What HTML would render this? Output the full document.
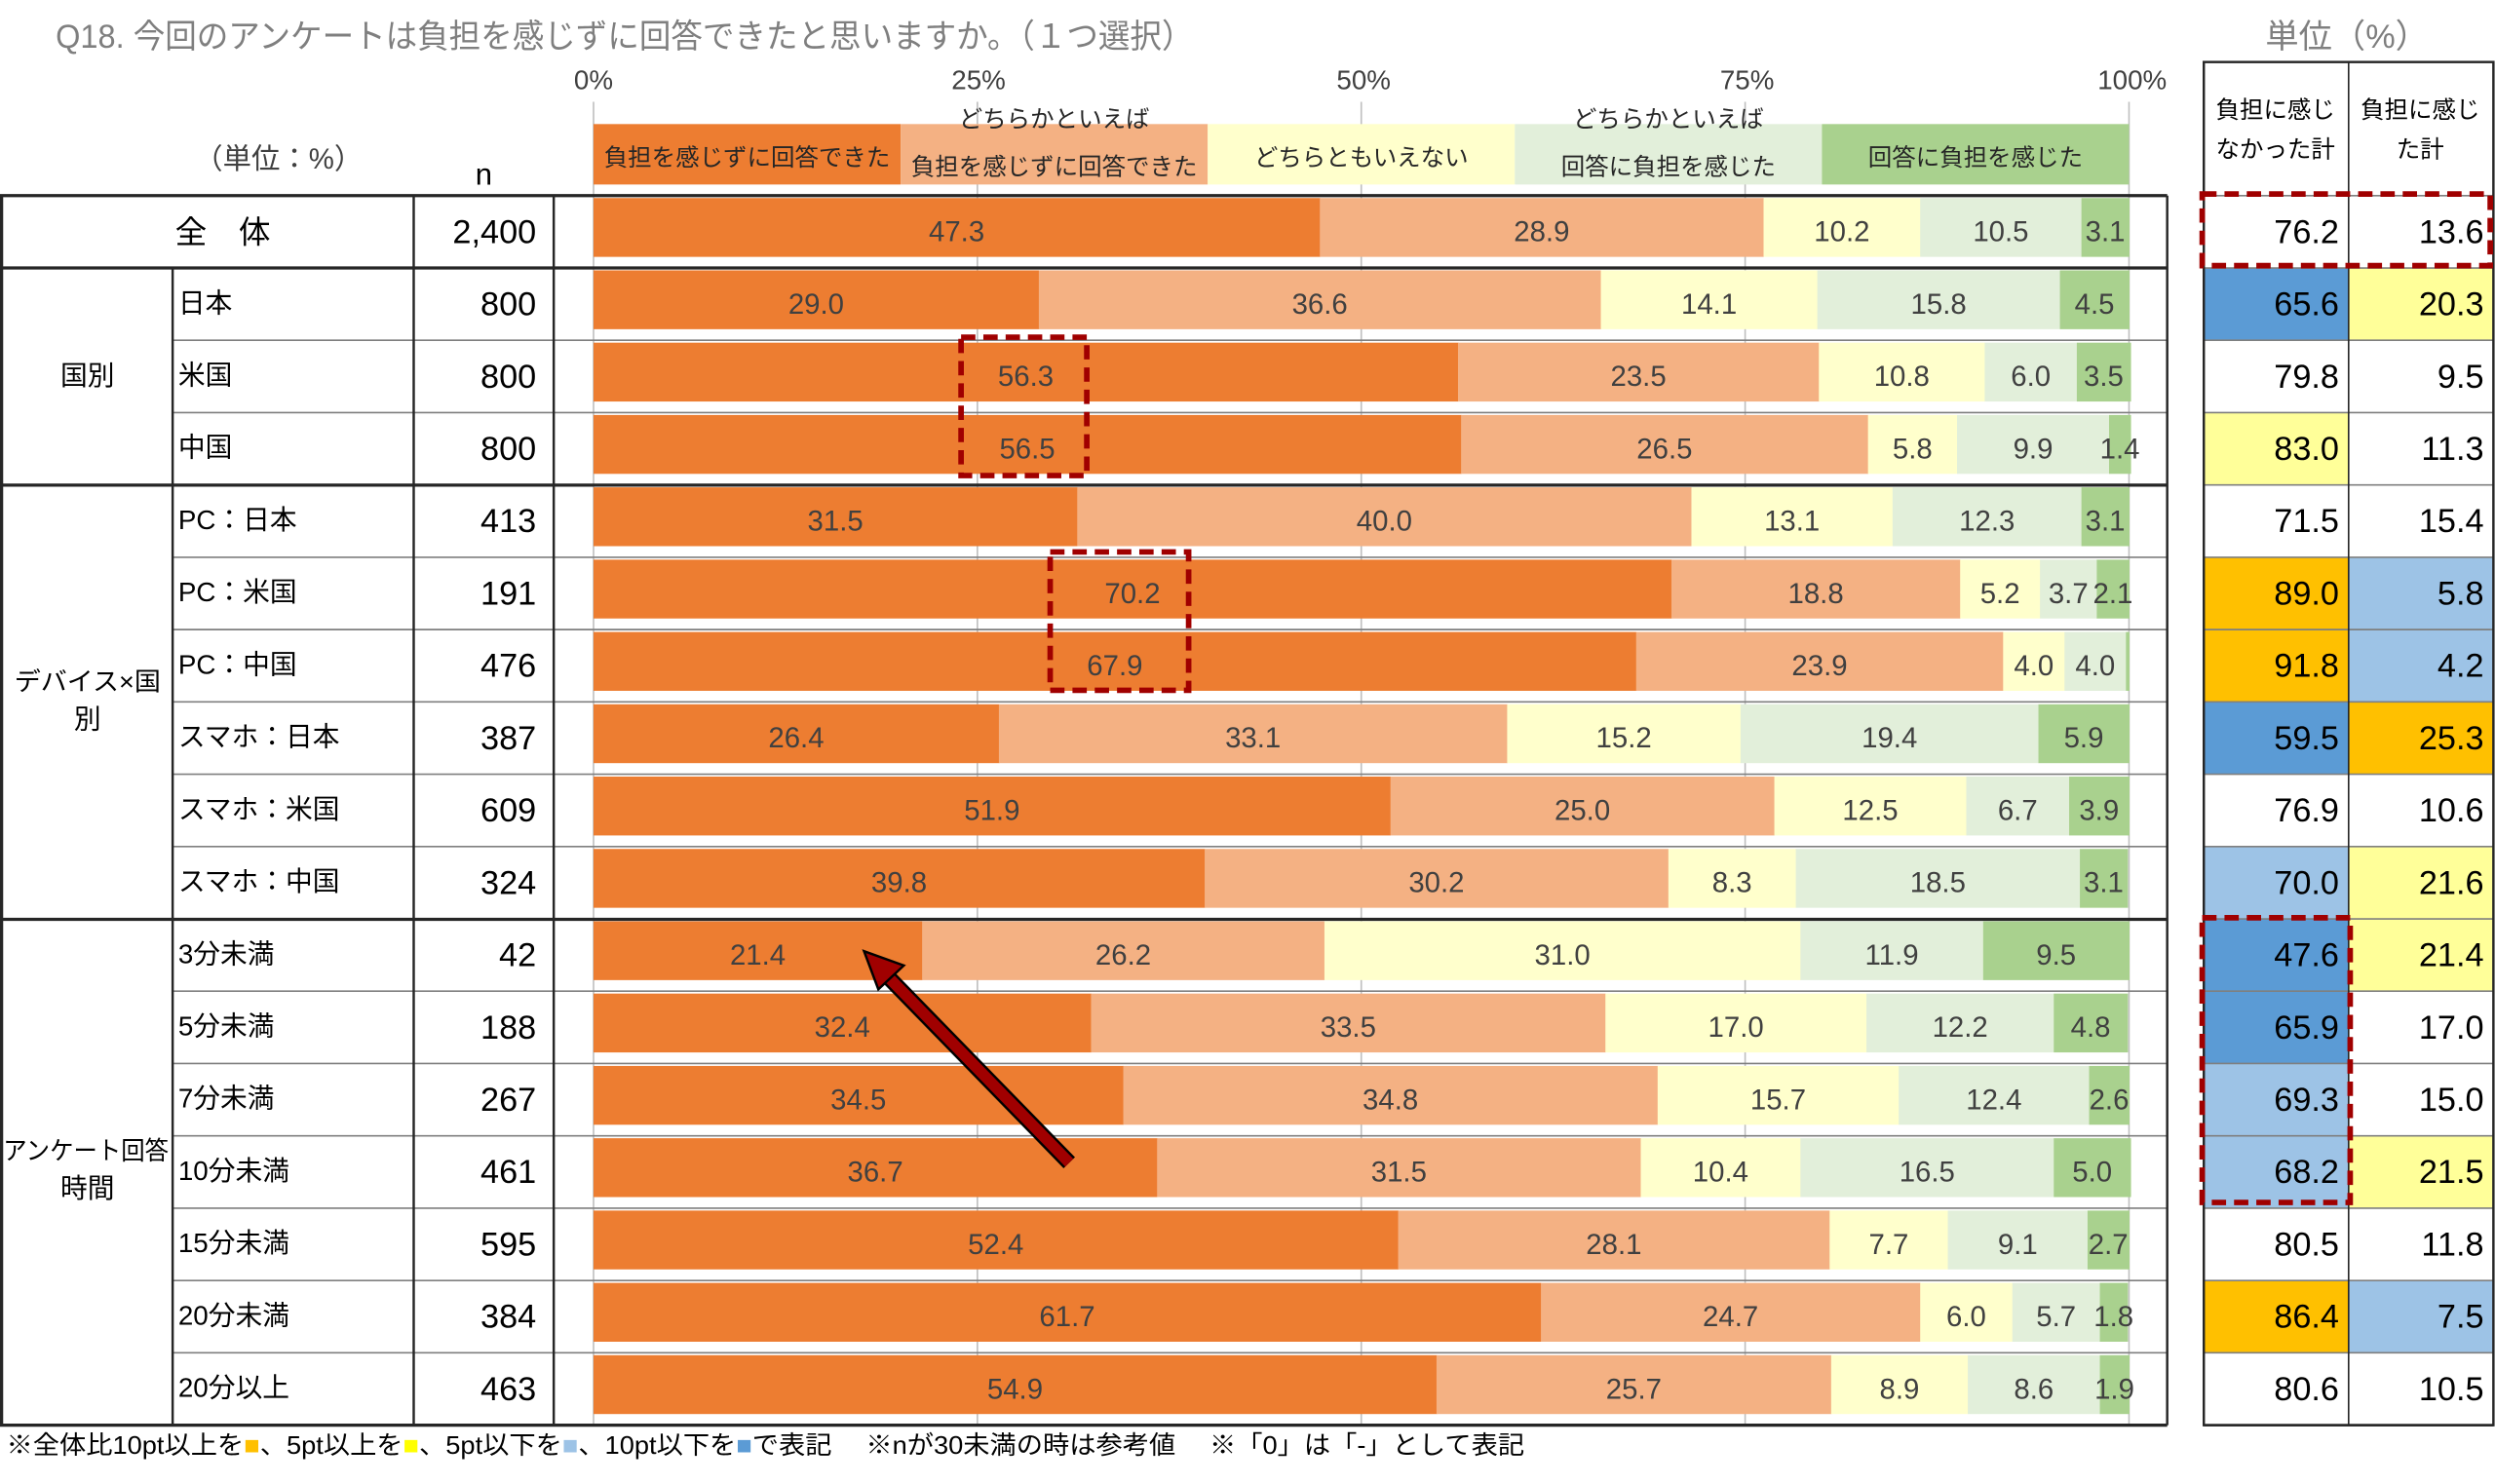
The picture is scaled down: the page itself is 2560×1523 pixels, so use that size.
<!DOCTYPE html>
<html><head><meta charset="utf-8"><style>
html,body{margin:0;padding:0;background:#fff}
svg{display:block}
text{font-family:"Liberation Sans","Noto Sans CJK JP",sans-serif}
</style></head><body>
<svg id="s" xmlns="http://www.w3.org/2000/svg" width="2560" height="1523" viewBox="0 0 1568 933" preserveAspectRatio="none">
<rect width="1568" height="933" fill="#fff"/>
<text x="35" y="30" font-size="21" fill="#7f7f7f" textLength="715" lengthAdjust="spacingAndGlyphs">Q18.  今回のアンケートは負担を感じずに回答できたと思いますか。（１つ選択）</text>
<text x="1475" y="30" font-size="21" fill="#7f7f7f" text-anchor="middle">単位（%）</text>
<text x="373" y="56" font-size="17" fill="#404040" text-anchor="middle">0%</text>
<text x="615" y="56" font-size="17" fill="#404040" text-anchor="middle">25%</text>
<text x="857" y="56" font-size="17" fill="#404040" text-anchor="middle">50%</text>
<text x="1098" y="56" font-size="17" fill="#404040" text-anchor="middle">75%</text>
<text x="1340" y="56" font-size="17" fill="#404040" text-anchor="middle">100%</text>
<text x="175" y="106" font-size="18" fill="#404040" text-anchor="middle">（単位：%）</text>
<text x="304" y="116" font-size="19" fill="#000" text-anchor="middle">n</text>
<g id="g"></g>
</svg>
<script>
var g=document.getElementById('g');var h='';
var C=['#ED7D31','#F4B183','#FFFFCC','#E2EFDA','#A9D18E'];
var X0=373,W=9.65,T=123,RH=45.47;
[0,25,50,75,100].forEach(function(p){h+='<line x1="'+(X0+p*W)+'" y1="64" x2="'+(X0+p*W)+'" y2="896" stroke="#bfbfbf" stroke-width="1"/>';});
var L=[[0,20,['負担を感じずに回答できた'],'#ED7D31'],[20,40,['どちらかといえば','負担を感じずに回答できた'],'#F4B183'],[40,60,['どちらともいえない'],'#FFFFCC'],[60,80,['どちらかといえば','回答に負担を感じた'],'#E2EFDA'],[80,100,['回答に負担を感じた'],'#A9D18E']];
L.forEach(function(l){var x=X0+l[0]*W,w=(l[1]-l[0])*W;h+='<rect x="'+x+'" y="78" width="'+w+'" height="38" fill="'+l[3]+'"/>';
if(l[2].length==1)h+='<text x="'+(x+w/2)+'" y="104" font-size="15" fill="#262626" text-anchor="middle">'+l[2][0]+'</text>';
else{h+='<text x="'+(x+w/2)+'" y="80" font-size="15" fill="#262626" text-anchor="middle">'+l[2][0]+'</text><text x="'+(x+w/2)+'" y="110" font-size="15" fill="#262626" text-anchor="middle">'+l[2][1]+'</text>';}});
var R=[
['全 体','2,400',[47.3,28.9,10.2,10.5,3.1],['76.2','#fff'],['13.6','#fff']],
['日本','800',[29.0,36.6,14.1,15.8,4.5],['65.6','#5B9BD5'],['20.3','#FFFF99']],
['米国','800',[56.3,23.5,10.8,6.0,3.5],['79.8','#fff'],['9.5','#fff']],
['中国','800',[56.5,26.5,5.8,9.9,1.4],['83.0','#FFFF99'],['11.3','#fff']],
['PC：日本','413',[31.5,40.0,13.1,12.3,3.1],['71.5','#fff'],['15.4','#fff']],
['PC：米国','191',[70.2,18.8,5.2,3.7,2.1],['89.0','#FFC000'],['5.8','#9DC3E6']],
['PC：中国','476',[67.9,23.9,4.0,4.0,0.2],['91.8','#FFC000'],['4.2','#9DC3E6']],
['スマホ：日本','387',[26.4,33.1,15.2,19.4,5.9],['59.5','#5B9BD5'],['25.3','#FFC000']],
['スマホ：米国','609',[51.9,25.0,12.5,6.7,3.9],['76.9','#fff'],['10.6','#fff']],
['スマホ：中国','324',[39.8,30.2,8.3,18.5,3.1],['70.0','#9DC3E6'],['21.6','#FFFF99']],
['3分未満','42',[21.4,26.2,31.0,11.9,9.5],['47.6','#5B9BD5'],['21.4','#FFFF99']],
['5分未満','188',[32.4,33.5,17.0,12.2,4.8],['65.9','#5B9BD5'],['17.0','#fff']],
['7分未満','267',[34.5,34.8,15.7,12.4,2.6],['69.3','#9DC3E6'],['15.0','#fff']],
['10分未満','461',[36.7,31.5,10.4,16.5,5.0],['68.2','#9DC3E6'],['21.5','#FFFF99']],
['15分未満','595',[52.4,28.1,7.7,9.1,2.7],['80.5','#fff'],['11.8','#fff']],
['20分未満','384',[61.7,24.7,6.0,5.7,1.8],['86.4','#FFC000'],['7.5','#9DC3E6']],
['20分以上','463',[54.9,25.7,8.9,8.6,1.9],['80.6','#fff'],['10.5','#fff']]];
R.forEach(function(r,i){var y=T+i*RH,cy=y+RH/2+6;var c=0;
r[2].forEach(function(v,k){var x=X0+c*W,w=v*W;h+='<rect x="'+x+'" y="'+(y+1.5)+'" width="'+(w+0.3)+'" height="37" fill="'+C[k]+'"/>';c+=v;});
c=0;r[2].forEach(function(v,k){if(!(i==6&&k==4))h+='<text x="'+(X0+(c+v/2)*W)+'" y="'+(cy)+'" font-size="18" fill="#404040" text-anchor="middle">'+v.toFixed(1)+'</text>';c+=v;});
h+='<rect x="1385" y="'+y+'" width="91" height="'+RH+'" fill="'+r[3][1]+'"/><rect x="1476" y="'+y+'" width="91" height="'+RH+'" fill="'+r[4][1]+'"/>';
h+='<text x="1470" y="'+(cy+1)+'" font-size="21" fill="#000" text-anchor="end">'+r[3][0]+'</text><text x="1561" y="'+(cy+1)+'" font-size="21" fill="#000" text-anchor="end">'+r[4][0]+'</text>';
h+='<text x="337" y="'+(cy+1)+'" font-size="21" fill="#000" text-anchor="end">'+r[1]+'</text>';
if(i==0)h+='<text x="140" y="'+(cy+1)+'" font-size="20" fill="#000" text-anchor="middle">全　体</text>';
else h+='<text x="112" y="'+(cy-1)+'" font-size="17" fill="#000">'+r[0]+'</text>';
if(i>0){h+='<line x1="108" y1="'+y+'" x2="1362" y2="'+y+'" stroke="#7f7f7f" stroke-width="1"/>';}
h+='<line x1="1385" y1="'+y+'" x2="1567" y2="'+y+'" stroke="#7f7f7f" stroke-width="1"/>';});
[123,168.5,305,578,896].forEach(function(y){h+='<line x1="0" y1="'+y+'" x2="1362" y2="'+y+'" stroke="#262626" stroke-width="2"/>';});
h+='<line x1="1385" y1="896" x2="1567" y2="896" stroke="#262626" stroke-width="1.5"/>';
h+='<line x1="1" y1="123" x2="1" y2="896" stroke="#262626" stroke-width="2"/>';
h+='<line x1="108.5" y1="168" x2="108.5" y2="896" stroke="#262626" stroke-width="1.5"/>';
h+='<line x1="260" y1="123" x2="260" y2="896" stroke="#262626" stroke-width="1.5"/>';
h+='<line x1="348" y1="123" x2="348" y2="896" stroke="#262626" stroke-width="1.5"/>';
h+='<line x1="1362" y1="123" x2="1362" y2="896" stroke="#262626" stroke-width="1.5"/>';
h+='<rect x="1385" y="39" width="182" height="857" fill="none" stroke="#262626" stroke-width="1.5"/>';
h+='<line x1="1476" y1="39" x2="1476" y2="896" stroke="#262626" stroke-width="1"/>';
h+='<text x="1430" y="74" font-size="15" fill="#000" text-anchor="middle">負担に感じ</text><text x="1430" y="99" font-size="15" fill="#000" text-anchor="middle">なかった計</text>';
h+='<text x="1521" y="74" font-size="15" fill="#000" text-anchor="middle">負担に感じ</text><text x="1521" y="99" font-size="15" fill="#000" text-anchor="middle">た計</text>';
h+='<text x="55" y="242" font-size="17" fill="#000" text-anchor="middle">国別</text>';
h+='<text x="55" y="434" font-size="16" fill="#000" text-anchor="middle" textLength="92" lengthAdjust="spacingAndGlyphs">デバイス×国</text><text x="55" y="458" font-size="17" fill="#000" text-anchor="middle">別</text>';
h+='<text x="54" y="729" font-size="16" fill="#000" text-anchor="middle" textLength="104" lengthAdjust="spacingAndGlyphs">アンケート回答</text><text x="55" y="753" font-size="17" fill="#000" text-anchor="middle">時間</text>';
var D='fill="none" stroke="#A00000" stroke-width="3.5" stroke-dasharray="9,5"';
h+='<rect x="604" y="212" width="79" height="87" '+D+'/>';
h+='<rect x="660" y="347" width="87" height="87" '+D+'/>';
h+='<rect x="1384" y="122" width="181" height="45" '+D+'/>';
h+='<rect x="1384" y="577" width="93" height="179" '+D+'/>';
h+='<line x1="672" y1="731" x2="556" y2="612" stroke="#000" stroke-width="10"/><line x1="672" y1="731" x2="556" y2="612" stroke="#A00000" stroke-width="7"/>';
h+='<polygon points="543,598 568,607 552,622" fill="#A00000" stroke="#000" stroke-width="1.5"/>';
h+='<text x="4" y="914" font-size="16" fill="#000" textLength="954" lengthAdjust="spacingAndGlyphs">※全体比10pt以上を<tspan fill="#FFC000">■</tspan>、5pt以上を<tspan fill="#FFFF00">■</tspan>、5pt以下を<tspan fill="#9DC3E6">■</tspan>、10pt以下を<tspan fill="#5B9BD5">■</tspan>で表記　 ※nが30未満の時は参考値　 ※「0」は「-」として表記</text>';
g.innerHTML=h;
</script>
</body></html>
